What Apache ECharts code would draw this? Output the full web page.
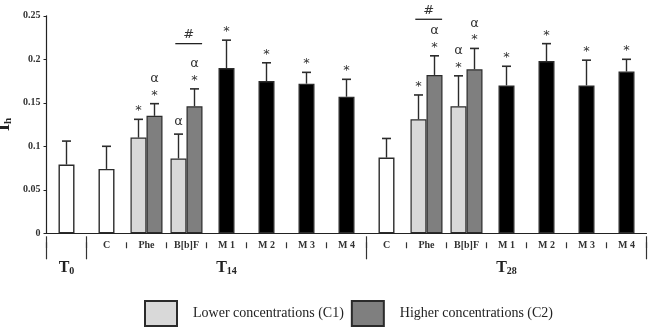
<!DOCTYPE html>
<html><head><meta charset="utf-8">
<script src="https://cdn.jsdelivr.net/npm/echarts@6/dist/echarts.min.js"></script>
<style>html,body{margin:0;padding:0;background:#fff}#c{width:648px;height:329px}</style>
</head><body><div id="c"></div>
<script>
const categories = ['', 'C', 'Phe', 'B[b]F', 'M 1', 'M 2', 'M 3', 'M 4', 'C', 'Phe', 'B[b]F', 'M 1', 'M 2', 'M 3', 'M 4'];
const groupLabels = ['0', '', '', '', '14', '', '', '', '', '', '', '28', '', '', ''];
const yTicks = [0, 0.05, 0.1, 0.15, 0.2, 0.25];

const singleValues = [0.079, 0.074, null, null, 0.190, 0.175, 0.172, 0.157, 0.087, null, null, 0.170, 0.198, 0.170, 0.186];
const singleErrors = [0.027, 0.026, null, null, 0.032, 0.021, 0.013, 0.020, 0.022, null, null, 0.022, 0.020, 0.029, 0.014];
const singleMarks  = ['', '', '', '', '*', '*', '*', '*', '', '', '', '*', '*', '*', '*'];

const c1Values = [null, null, 0.110, 0.086, null, null, null, null, null, 0.131, 0.146, null, null, null, null];
const c1Errors = [null, null, 0.021, 0.028, null, null, null, null, null, 0.028, 0.035, null, null, null, null];
const c1Marks  = ['', '', '*', 'α', '', '', '', '', '', '*', '*α', '', '', '', ''];

const c2Values = [null, null, 0.135, 0.146, null, null, null, null, null, 0.182, 0.1885, null, null, null, null];
const c2Errors = [null, null, 0.014, 0.020, null, null, null, null, null, 0.022, 0.024, null, null, null, null];
const c2Marks  = ['', '', '*α', '*α', '', '', '', '', '', '*α', '*α', '', '', '', ''];

const hashIndex  = [3, 9];
const hashLevels = [0.218, 0.246];

const C1_NAME = 'Lower concentrations (C1)';
const C2_NAME = 'Higher concentrations (C2)';
const SERIF = '"Liberation Serif", "Times New Roman", serif';
const EDGE = '#2b2b2b';

function errData(vals, errs, marks) {
  const out = [];
  vals.forEach((v, i) => { if (v != null) out.push([i, v, errs[i], marks[i]]); });
  return out;
}

function errSeries(vals, errs, marks, shift) {
  return {
    type: 'custom', xAxisIndex: 0, yAxisIndex: 0, z: 5, silent: true,
    data: errData(vals, errs, marks),
    renderItem: function (params, api) {
      const i = api.value(0), v = api.value(1), e = api.value(2);
      const mark = marks[i];
      const bw = api.size([1, 0])[0];
      const base = api.coord([i, v]);
      const top = api.coord([i, v + e]);
      const x = base[0] + shift * bw;
      const ch = [
        { type: 'line', shape: { x1: x, y1: base[1], x2: x, y2: top[1] }, style: { stroke: EDGE, lineWidth: 1.4 } },
        { type: 'line', shape: { x1: x - 4.5, y1: top[1], x2: x + 4.5, y2: top[1] }, style: { stroke: EDGE, lineWidth: 1.6 } }
      ];
      let y = top[1] - 12;
      if (mark.indexOf('*') >= 0) {
        ch.push({ type: 'text', x: x, y: y + 3.5, style: { text: '*', fontSize: 13, fontFamily: 'DejaVu Sans, sans-serif', fill: '#333', align: 'center', verticalAlign: 'middle' } });
        y -= 13;
      }
      if (mark.indexOf('α') >= 0) {
        ch.push({ type: 'text', x: x, y: y, style: { text: 'α', fontSize: 13, fontFamily: 'DejaVu Sans, sans-serif', fill: '#333', align: 'center', verticalAlign: 'middle' } });
      }
      return { type: 'group', children: ch };
    }
  };
}

const chart = echarts.init(document.getElementById('c'), null, { renderer: 'canvas' });

const baseX = { type: 'category', data: categories, gridIndex: 0, position: 'bottom' };

chart.setOption({
  animation: false,
  backgroundColor: '#fff',
  grid: { left: 46.5, width: 600, top: 15.8, height: 217.5, containLabel: false, outerBoundsMode: 'none' },
  legend: {
    data: [C1_NAME, C2_NAME], left: 144, top: 300, padding: 0, itemWidth: 32, itemHeight: 25, itemGap: 7,
    icon: 'rect',
    textStyle: { fontFamily: SERIF, fontSize: 14, color: '#222', padding: [0, 0, 0, 11] }
  },
  xAxis: [
    Object.assign({}, baseX, {
      axisLine: { show: true, lineStyle: { color: '#222', width: 1.2 } },
      axisTick: { show: false },
      axisLabel: { interval: 0, margin: 7, fontFamily: SERIF, fontWeight: 'bold', fontSize: 10, color: '#333' },
      splitLine: { show: false }
    }),
    Object.assign({}, baseX, { show: false }),
    Object.assign({}, baseX, {
      offset: 9,
      axisLine: { show: false },
      axisTick: { show: true, interval: 0, length: 6, lineStyle: { color: '#333', width: 1.2 } },
      axisLabel: { show: false },
      splitLine: { show: false }
    }),
    Object.assign({}, baseX, {
      offset: 3,
      axisLine: { show: false },
      axisTick: {
        show: true, length: 23, lineStyle: { color: '#333', width: 1.2 },
        interval: function (i) { return i === 0 || i === 1 || i === 8; }
      },
      axisLabel: {
        show: true, interval: 0, margin: 22,
        formatter: function (v, i) {
          const g = groupLabels[i];
          if (!g) return '';
          return i === 0 ? '{T0|T}{s0|' + g + '}' : '{T|T}{s|' + g + '}';
        },
        rich: {
          T: { fontFamily: SERIF, fontWeight: 'bold', fontSize: 16, color: '#222', verticalAlign: 'bottom', lineHeight: 18 },
          s: { fontFamily: SERIF, fontWeight: 'bold', fontSize: 10, color: '#222', verticalAlign: 'bottom', lineHeight: 14 },
          T0: { fontFamily: SERIF, fontWeight: 'bold', fontSize: 16, color: '#222', verticalAlign: 'bottom', lineHeight: 18, padding: [6, 0, 0, 0] },
          s0: { fontFamily: SERIF, fontWeight: 'bold', fontSize: 10, color: '#222', verticalAlign: 'bottom', lineHeight: 14, padding: [6, 0, 0, 0] }
        }
      },
      splitLine: { show: false }
    })
  ],
  yAxis: {
    type: 'value', min: 0, max: 0.25, interval: 0.05,
    name: '{I|I}{h|h}', nameLocation: 'middle', nameRotate: 90, nameGap: 33, nameMoveOverlap: false,
    nameTextStyle: {
      rich: {
        I: { fontFamily: SERIF, fontWeight: 'bold', fontSize: 18, color: '#222' },
        h: { fontFamily: SERIF, fontWeight: 'bold', fontSize: 11, color: '#222', padding: [8, 0, 0, 0] }
      }
    },
    axisLine: { show: true, lineStyle: { color: '#222', width: 1.2 } },
    axisTick: { show: true, length: 3, inside: false, lineStyle: { color: '#222' } },
    axisLabel: {
      margin: 6, fontFamily: SERIF, fontWeight: 'bold', fontSize: 10, color: '#333',
      formatter: function (v) { const t = yTicks.find(x => Math.abs(x - v) < 1e-9); return t === undefined ? '' : String(t); }
    },
    splitLine: { show: false }
  },
  series: [
    {
      name: 'single', type: 'bar', xAxisIndex: 0, barWidth: 16,
      data: singleValues.map((v, i) => v == null ? null : {
        value: v,
        itemStyle: { color: categories[i].charAt(0) === 'M' ? '#000' : '#fff', borderColor: EDGE, borderWidth: 1.4 }
      })
    },
    {
      name: C1_NAME, type: 'bar', xAxisIndex: 1, barWidth: 16, barGap: 0,
      itemStyle: { color: '#d9d9d9', borderColor: EDGE, borderWidth: 1.2 },
      data: c1Values
    },
    {
      name: C2_NAME, type: 'bar', xAxisIndex: 1, barWidth: 16, barGap: 0,
      itemStyle: { color: '#7f7f7f', borderColor: EDGE, borderWidth: 1.2 },
      data: c2Values
    },
    errSeries(singleValues, singleErrors, singleMarks, 0),
    errSeries(c1Values, c1Errors, c1Marks, -0.2),
    errSeries(c2Values, c2Errors, c2Marks, 0.2),
    {
      type: 'custom', xAxisIndex: 0, yAxisIndex: 0, z: 5, silent: true,
      data: hashIndex.map((c, k) => [c, hashLevels[k]]),
      renderItem: function (params, api) {
        const p = api.coord([api.value(0), api.value(1)]);
        const bw = api.size([1, 0])[0];
        const x1 = p[0] - 0.28 * bw, x2 = p[0] + 0.39 * bw;
        return { type: 'group', children: [
          { type: 'line', shape: { x1: x1, y1: p[1], x2: x2, y2: p[1] }, style: { stroke: '#222', lineWidth: 1.3 } },
          { type: 'text', x: (x1 + x2) / 2, y: p[1] - 9, style: { text: '#', fontSize: 13, fontFamily: 'DejaVu Sans, sans-serif', fill: '#333', align: 'center', verticalAlign: 'middle' } }
        ] };
      }
    }
  ]
});
</script>
</body></html>
